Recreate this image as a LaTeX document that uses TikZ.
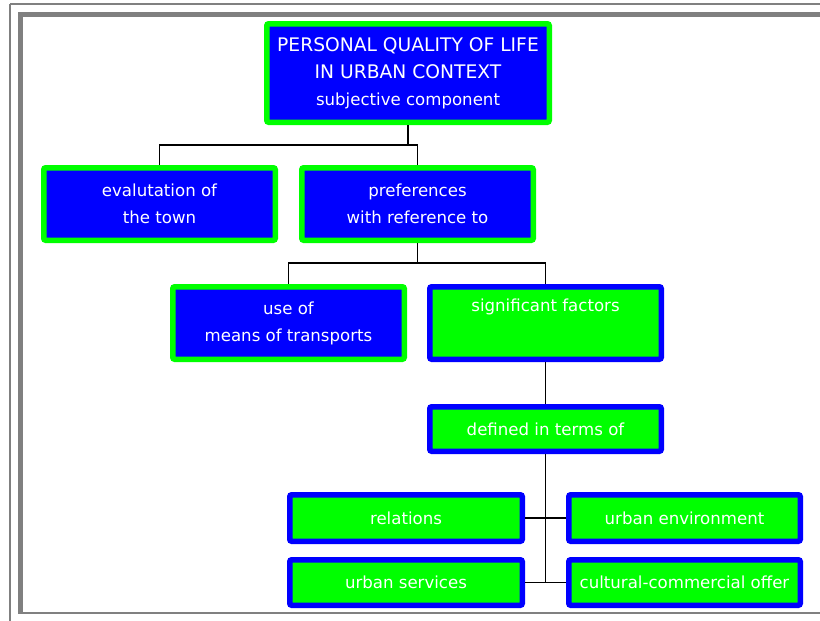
\documentclass[tikz,border=0pt]{standalone}
\usepackage{fontspec}
\setmainfont{DejaVu Sans}
\definecolor{pureblue}{RGB}{0,0,255}
\definecolor{puregreen}{RGB}{0,255,0}
\definecolor{framegray}{RGB}{128,128,128}
\newcommand{\capsline}[1]{{\fontsize{18.7}{27}\selectfont #1}}
\tikzset{
  boxbase/.style={rectangle, rounded corners=2pt, line width=5.5pt, text=white, align=center,
     font=\fontsize{16.6}{27}\selectfont, inner sep=0pt, minimum width=231.5pt},
  bluebox/.style={boxbase, draw=puregreen, fill=pureblue},
  greenbox/.style={boxbase, draw=pureblue, fill=puregreen},
  conn/.style={draw=black, line width=1.6pt},
  framethin/.style={draw=framegray, line width=1.6pt},
}
\begin{document}
\begin{tikzpicture}[x=1pt,y=-1pt]
\useasboundingbox (0,0) rectangle (820,621);
% frame
\draw[framethin] (10,3.8) -- (820,3.8);
\draw[framethin] (10,3.8) -- (10,621);
\fill[framegray] (18.3,12) rectangle (820,16.7);
\fill[framegray] (18.3,12) rectangle (22.7,614);
\fill[framegray] (18.3,612) rectangle (820,614);
% nodes
\node[bluebox, minimum width=282.5pt, minimum height=98.5pt] (top) at (408,73)
  {\capsline{PERSONAL QUALITY OF LIFE}\\\capsline{IN URBAN CONTEXT}\\subjective component};
\node[bluebox, minimum height=72.5pt] (eval) at (159.5,204) {evalutation of\\the town};
\node[bluebox, minimum height=72.5pt] (pref) at (417.5,204) {preferences\\with reference to};
\node[bluebox, minimum height=72.5pt] (useof) at (288.5,323) {use of\\means of transports};
\node[greenbox, minimum height=72.5pt] (sig) at (545.5,323) {significant factors\\\strut};
\node[greenbox, minimum height=44.5pt] (def) at (545.5,429) {defined in terms of};
\node[greenbox, minimum width=232.5pt, minimum height=46.5pt] (rel) at (406,518) {relations};
\node[greenbox, minimum height=46.5pt] (env) at (684.5,518) {urban environment};
\node[greenbox, minimum width=232.5pt, minimum height=45.5pt] (serv) at (406,582.5) {urban services};
\node[greenbox, minimum height=45.5pt] (cult) at (684.5,582.5) {cultural-commercial offer};
% connectors
\coordinate (c1) at (408,145);
\coordinate (c2) at (417.5,263);
\coordinate (c3) at (545.5,583);
\draw[conn] (top.south) -- (c1);
\draw[conn] (c1) -| (eval.north);
\draw[conn] (c1) -| (pref.north);
\draw[conn] (pref.south) -- (c2);
\draw[conn] (c2) -| (useof.north);
\draw[conn] (c2) -| (sig.north);
\draw[conn] (sig.south) -- (def.north);
\draw[conn] (def.south) -- (c3);
\draw[conn] (rel.east) -- (env.west);
\draw[conn] (serv.east) -- (cult.west);
\end{tikzpicture}
\end{document}
